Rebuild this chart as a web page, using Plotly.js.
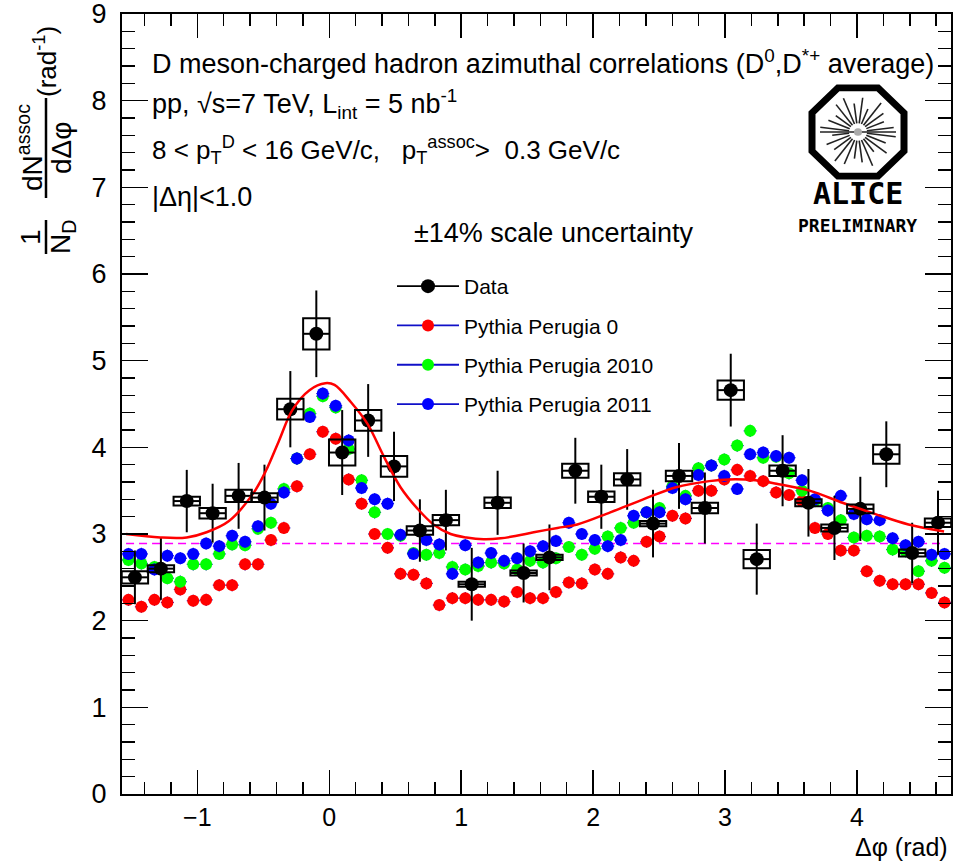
<!DOCTYPE html>
<html><head><meta charset="utf-8">
<script src="https://cdn.plot.ly/plotly-3.0.1.min.js"></script>
<style>body{margin:0;background:#fff}#chart{width:969px;height:861px}</style>
</head><body><div id="chart"></div>
<script>
// ---------------- data ----------------
const dataPhi = [-1.473,-1.276,-1.080,-0.884,-0.687,-0.491,-0.295,-0.098,0.098,0.295,0.491,0.687,0.884,1.080,1.276,1.473,1.669,1.865,2.062,2.258,2.454,2.651,2.847,3.043,3.240,3.436,3.632,3.829,4.025,4.222,4.418,4.614];
const dataY = [2.50,2.60,3.38,3.24,3.44,3.42,4.44,5.31,3.94,4.31,3.78,3.04,3.16,2.42,3.36,2.55,2.73,3.73,3.43,3.63,3.12,3.67,3.30,4.66,2.71,3.73,3.36,3.07,3.29,3.92,2.78,3.13];
const dataStat = [0.31,0.36,0.36,0.34,0.38,0.38,0.44,0.50,0.49,0.42,0.40,0.36,0.35,0.42,0.37,0.34,0.38,0.38,0.37,0.35,0.39,0.38,0.41,0.42,0.41,0.41,0.39,0.37,0.37,0.38,0.35,0.37];
const dataSys = [0.07,0.04,0.05,0.06,0.07,0.05,0.12,0.18,0.15,0.12,0.12,0.05,0.06,0.03,0.06,0.03,0.03,0.08,0.06,0.07,0.03,0.06,0.06,0.11,0.105,0.06,0.04,0.04,0.05,0.11,0.04,0.05];

const modelPhi = [-1.522,-1.424,-1.325,-1.227,-1.129,-1.031,-0.933,-0.834,-0.736,-0.638,-0.540,-0.442,-0.344,-0.245,-0.147,-0.049,0.049,0.147,0.245,0.344,0.442,0.540,0.638,0.736,0.834,0.933,1.031,1.129,1.227,1.325,1.424,1.522,1.620,1.718,1.816,1.914,2.013,2.111,2.209,2.307,2.405,2.503,2.601,2.700,2.798,2.896,2.994,3.092,3.190,3.289,3.387,3.485,3.583,3.681,3.779,3.877,3.976,4.074,4.172,4.270,4.368,4.466,4.565,4.663];
const perugia0 = [2.24,2.16,2.24,2.21,2.36,2.23,2.24,2.41,2.41,2.65,2.65,2.93,3.07,3.55,3.92,4.18,4.10,
  3.63,3.35,3.00,2.84,2.54,2.53,2.43,2.18,2.26,2.26,2.24,2.24,2.22,2.33,2.26,2.26,2.33,
  2.44,2.43,2.59,2.54,2.73,2.69,2.91,2.97,3.21,3.18,3.50,3.50,3.63,3.74,3.67,
  3.61,3.48,3.45,3.38,3.07,3.00,2.81,2.81,2.57,2.46,2.42,2.42,2.42,2.32,2.21];
const perugia2010 = [2.70,2.66,2.62,2.49,2.45,2.65,2.65,2.77,2.88,2.87,3.06,3.13,3.52,3.87,4.39,4.59,4.46,
  3.98,3.62,3.25,3.00,2.98,2.78,2.76,2.78,2.62,2.59,2.63,2.67,2.66,2.59,2.69,2.67,2.72,
  2.85,2.76,2.83,2.97,3.07,3.13,3.25,3.30,3.55,3.44,3.76,3.79,3.86,4.02,4.19,
  3.88,3.89,3.70,3.50,3.38,3.30,3.16,2.96,2.98,2.97,2.82,2.80,2.57,2.69,2.61];
const perugia2011 = [2.77,2.77,2.59,2.75,2.72,2.77,2.89,2.86,2.98,2.91,3.09,3.35,3.48,3.87,4.35,4.62,4.48,
  4.08,3.53,3.40,3.35,2.99,2.77,2.93,2.88,2.54,2.87,2.67,2.78,2.69,2.72,2.80,2.86,2.92,
  3.13,3.00,2.93,2.86,2.93,3.21,3.25,3.25,3.53,3.40,3.68,3.79,3.67,3.52,3.92,
  3.94,3.90,3.88,3.62,3.40,3.27,3.44,3.23,3.17,3.16,2.95,2.87,2.91,2.76,2.77];

const fitPhi = [-1.54,-1.28,-1.08,-0.93,-0.76,-0.58,-0.48,-0.38,-0.28,-0.15,-0.03,0.04,0.165,0.29,0.415,0.54,0.67,0.79,0.92,1.04,1.17,1.30,1.42,1.55,1.73,1.88,2.13,2.38,2.63,2.88,3.03,3.23,3.39,3.64,3.89,4.14,4.39,4.66];
const fitY   = [3.00,2.96,2.96,3.02,3.15,3.46,3.73,4.08,4.43,4.66,4.74,4.72,4.52,4.27,3.89,3.54,3.29,3.11,3.00,2.96,2.94,2.95,2.98,3.02,3.07,3.11,3.25,3.40,3.54,3.61,3.63,3.62,3.58,3.50,3.36,3.23,3.11,3.03];
const baselineLevel = 2.89;

const seriesNames = ['Data','Pythia Perugia 0','Pythia Perugia 2010','Pythia Perugia 2011'];
const xTickVals = [-1,0,1,2,3,4];
const yTickVals = [0,1,2,3,4,5,6,7,8,9];

// ---------------- styles ----------------
const FONT = 'Liberation Sans, Arial, Helvetica, sans-serif';
const NARROW = 'Liberation Sans Narrow, Arial Narrow, Liberation Sans, sans-serif';
const dataHalfBin = Math.PI/32;
const modelHalfBin = Math.PI/64;
const boxHalfW = 0.10;
const modelErr = 0.07;
const errBlue = '#1010c8';
const X0 = -Math.PI/2, X1 = 3*Math.PI/2;
const L = 122, R = 18, T = 14, B = 67, W = 969, H = 861;
const PW = W - L - R, PH = H - T - B;
const px2x = p => (p - L) / PW;
const py2y = p => (H - B - p) / PH;

function modelTrace(y, color) {
  return {x: modelPhi, y: y, type: 'scatter', mode: 'markers', showlegend: false,
    marker: {color: color, size: 12, line: {width: 0}},
    error_x: {type: 'constant', value: modelHalfBin, color: errBlue, thickness: 1.2, width: 0},
    error_y: {type: 'constant', value: modelErr, color: errBlue, thickness: 1.2, width: 0},
    hoverinfo: 'x+y'};
}

const traces = [
  {x: [fitPhi[0], fitPhi[fitPhi.length-1]], y: [baselineLevel, baselineLevel], type: 'scatter', mode: 'lines',
   line: {color: '#ff00ff', dash: '8px,5px', width: 1.6}, showlegend: false, hoverinfo: 'skip'},
  modelTrace(perugia0, '#ff0000'),
  modelTrace(perugia2010, '#00ff00'),
  modelTrace(perugia2011, '#0000ff'),
  {x: dataPhi, y: dataY, type: 'scatter', mode: 'markers', showlegend: false,
   marker: {color: '#000', size: 14},
   error_x: {type: 'constant', value: dataHalfBin, color: '#000', thickness: 2, width: 0},
   error_y: {type: 'data', array: dataStat, color: '#000', thickness: 2, width: 0}},
  {x: fitPhi, y: fitY, type: 'scatter', mode: 'lines', line: {color: '#ff0000', width: 2.5, shape: 'spline', smoothing: 1},
   showlegend: false, hoverinfo: 'skip'}
];
// legend entries
const legColors = [['#000','#000',14],['#ff0000',errBlue,12],['#00ff00',errBlue,12],['#0000ff',errBlue,12]];
seriesNames.forEach((n,i) => traces.push({x: [null], y: [null], type: 'scatter', mode: 'lines+markers', name: n,
  legendgroup: 'g'+i, line: {color: legColors[i][1], width: 1.8}, marker: {color: legColors[i][0], size: legColors[i][2]}}));

// systematic boxes
const shapes = dataPhi.map((x,i) => ({type: 'rect', xref: 'x', yref: 'y', x0: x - boxHalfW, x1: x + boxHalfW,
  y0: dataY[i] - dataSys[i], y1: dataY[i] + dataSys[i], line: {color: '#000', width: 2}, fillcolor: 'rgba(0,0,0,0)', layer: 'above'}));
// fraction bars of the y title
shapes.push({type:'line', xref:'paper', yref:'paper', x0:px2x(46), x1:px2x(46), y0:py2y(220), y1:py2y(254), line:{color:'#000', width:2.5}});
shapes.push({type:'line', xref:'paper', yref:'paper', x0:px2x(46), x1:px2x(46), y0:py2y(98), y1:py2y(198), line:{color:'#000', width:2.5}});

// ALICE logo graphic
let rays = '';
const rayLens = [38,30,36,26,38,32,28,36,38,30,34,26,38,32,28,36,38,30,36,26,38,32,28,36];
for (let k = 0; k < 24; k++) {
  const a = k * Math.PI / 12 + 0.13;
  const r0 = 9, r1 = rayLens[k];
  rays += `<line x1='${(50 + r0*Math.cos(a)).toFixed(1)}' y1='${(50 + r0*Math.sin(a)).toFixed(1)}' x2='${(50 + r1*Math.cos(a)).toFixed(1)}' y2='${(50 + r1*Math.sin(a)).toFixed(1)}'/>`;
}
const logoSvg = `<svg xmlns='http://www.w3.org/2000/svg' width='100' height='100' viewBox='0 0 100 100'>` +
  `<polygon points='30,4 70,4 96,30 96,70 70,96 30,96 4,70 4,30' fill='white' stroke='black' stroke-width='7'/>` +
  `<g stroke='#222' stroke-width='1.6'>${rays}<line x1='12' y1='50' x2='88' y2='50'/></g>` +
  `<circle cx='50' cy='50' r='4' fill='#aaa'/></svg>`;
const logoUri = 'data:image/svg+xml;base64,' + btoa(logoSvg);

const ann = (text, px, py, size, opts) => Object.assign({text: text, xref: 'paper', yref: 'paper', x: px2x(px), y: py2y(py),
  showarrow: false, font: {family: NARROW, size: size, color: '#000'}, xanchor: 'left', yanchor: 'middle'}, opts || {});

const annotations = [
  ann('D meson-charged hadron azimuthal correlations (D<sup>0</sup>,D<sup>*+</sup> average)', 150, 62, 27),
  ann('pp, √s=7 TeV, L<sub>int</sub> = 5 nb<sup>-1</sup>', 150, 104, 27),
  ann('8 < p<sub>T</sub><sup>D</sup> < 16 GeV/c,   p<sub>T</sub><sup>assoc</sup>>  0.3 GeV/c', 150, 150, 26),
  ann('|Δη|<1.0', 150, 197, 27),
  ann('±14% scale uncertainty', 412, 233, 27),
  ann('ALICE', 858, 194, 28, {xanchor: 'center', font: {family: 'DejaVu Sans Mono, monospace', size: 30, color: '#000', weight: 'bold'}}),
  ann('PRELIMINARY', 857, 225, 12, {xanchor: 'center', font: {family: 'DejaVu Sans Mono, monospace', size: 18, color: '#000', weight: 'bold'}}),
  // y axis title
  ann('1', 30, 237, 28, {xanchor: 'center', textangle: -90, font: {family: FONT, size: 28, color: '#000'}}),
  ann('N<sub>D</sub>', 62, 237, 28, {xanchor: 'center', textangle: -90, font: {family: FONT, size: 28, color: '#000'}}),
  ann('dN<sup>assoc</sup>', 30, 148, 28, {xanchor: 'center', textangle: -90, font: {family: FONT, size: 28, color: '#000'}}),
  ann('dΔφ', 62, 148, 28, {xanchor: 'center', textangle: -90, font: {family: FONT, size: 28, color: '#000'}}),
  ann('(rad<sup>-1</sup>)', 45, 62, 26, {xanchor: 'center', textangle: -90, font: {family: FONT, size: 26, color: '#000'}}),
  // x axis title
  ann('Δφ (rad)', 950, 847, 25, {xanchor: 'right'})
];

const axisCommon = {showline: true, linecolor: '#000', linewidth: 2, mirror: 'allticks', ticks: 'inside',
  tickcolor: '#000', tickwidth: 1.5, showgrid: false, zeroline: false, ticklabeloverflow: 'allow',
  tickfont: {family: FONT, size: 27, color: '#000'}};

const layout = {
  width: W, height: H, margin: {l: L, r: R, t: T, b: B}, paper_bgcolor: '#fff', plot_bgcolor: '#fff',
  xaxis: Object.assign({}, axisCommon, {range: [X0, X1], tickvals: xTickVals, ticklen: 24, ticklabelstandoff: 0,
    tickfont: {family: NARROW, size: 25, color: '#000'},
    minor: {dtick: 0.2, tick0: 0, ticks: 'inside', ticklen: 12, tickcolor: '#000', tickwidth: 1.5, showgrid: false}}),
  yaxis: Object.assign({}, axisCommon, {range: [0, 9], tickvals: yTickVals, ticklen: 26, ticklabelstandoff: 8,
    minor: {dtick: 0.2, tick0: 0, ticks: 'inside', ticklen: 13, tickcolor: '#000', tickwidth: 1.5, showgrid: false}}),
  showlegend: true,
  legend: {x: px2x(392), y: py2y(266), xanchor: 'left', yanchor: 'top', bgcolor: 'rgba(0,0,0,0)', borderwidth: 0,
    font: {family: FONT, size: 21, color: '#000'}, tracegroupgap: 9, itemwidth: 62},
  shapes: shapes,
  annotations: annotations,
  images: [{source: logoUri, xref: 'paper', yref: 'paper', x: px2x(808), y: py2y(84), sizex: 100/PW, sizey: 96/PH,
    xanchor: 'left', yanchor: 'top', sizing: 'stretch', layer: 'above'}]
};

Plotly.newPlot('chart', traces, layout, {displayModeBar: false, staticPlot: true});
</script></body></html>
